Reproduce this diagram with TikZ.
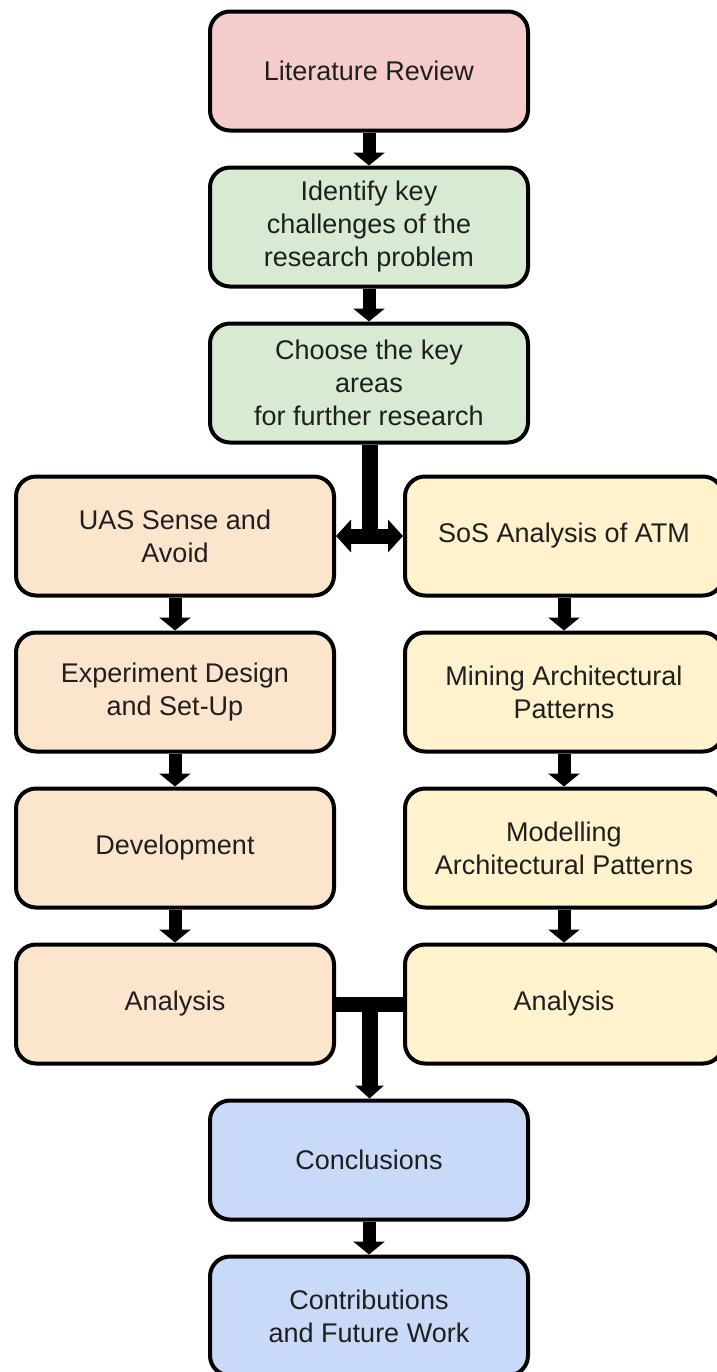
\documentclass[tikz,border=0pt]{standalone}
\usepackage{fontspec}
\setmainfont{Liberation Sans}
\usetikzlibrary{positioning,arrows.meta,calc}

\definecolor{litpink}{HTML}{F4CCCC}
\definecolor{idgreen}{HTML}{D9EAD3}
\definecolor{uasorange}{HTML}{FCE5CD}
\definecolor{sosyellow}{HTML}{FFF2CC}
\definecolor{endblue}{HTML}{C9DAF8}

\begin{document}
\begin{tikzpicture}[node distance={16.5pt},
    box/.style={draw, line width=2pt, rounded corners=10pt, minimum width=159pt,
      minimum height=59.5pt, align=center, text=black!88,
      font=\fontsize{13.5pt}{16.5pt}\selectfont},
    flow/.style={line width=6.5pt, -{Triangle[width=15.5pt,length=6.5pt]}}]
    \clip (0,0) rectangle (358.5pt,-686pt);
    \node[box, fill=litpink] (1) at (184.5pt,-35.5pt) {Literature Review};
    \node[box, fill=idgreen] (2) [below=of 1] {Identify key\\challenges of the\\research problem};
    \node[box, fill=idgreen] (3) [below=of 2] {Choose the key\\areas\\for further research};
    \node[box, fill=uasorange] (4) at (87.5pt,-268pt) {UAS Sense and\\Avoid};
    \node[box, fill=sosyellow] (5) [right=33.5pt of 4] {SoS Analysis of ATM};
    \node[box, fill=uasorange] (6) [below=of 4] {Experiment Design\\and Set-Up};
    \node[box, fill=sosyellow] (7) [below=of 5] {Mining Architectural\\Patterns};
    \node[box, fill=uasorange] (8) [below=of 6] {Development};
    \node[box, fill=sosyellow] (9) [below=of 7] {Modelling\\Architectural Patterns};
    \node[box, fill=uasorange] (10) [below=of 8] {Analysis};
    \node[box, fill=sosyellow] (11) [below=of 9] {Analysis};
    \coordinate (c) at (10.south -| 1);
    \node[box, fill=endblue] (12) [below=of c] {Conclusions};
    \node[box, fill=endblue] (13) [below=of 12] {Contributions\\and Future Work};
\begin{scope}
    \draw[flow] (1) -- (2);
    \draw[flow] (2) -- (3);
    \draw[flow] (4) -- (6);
    \draw[flow] (6) -- (8);
    \draw[flow] (8) -- (10);
    \draw[flow] (5) -- (7);
    \draw[flow] (7) -- (9);
    \draw[flow] (9) -- (11);
    \draw[flow] (12) -- (13);
    % split into the two research areas
    \coordinate (s) at ($(4.east)!0.5!(5.west)$);
    \draw[line width=8pt] (3.south -| s) -- (s);
    \draw[line width=7.5pt, {Triangle[width=16pt,length=7.5pt]}-{Triangle[width=16pt,length=7.5pt]}] (4.east) -- (5.west);
    % join the two analyses
    \coordinate (m) at ($(10.east)!0.5!(11.west)$);
    \draw[line width=7.5pt] (10.east) -- (11.west);
    \draw[line width=8pt, -{Triangle[width=14pt,length=6.5pt]}] (m) -- (m |- 12.north);
\end{scope}
\end{tikzpicture}
\end{document}
